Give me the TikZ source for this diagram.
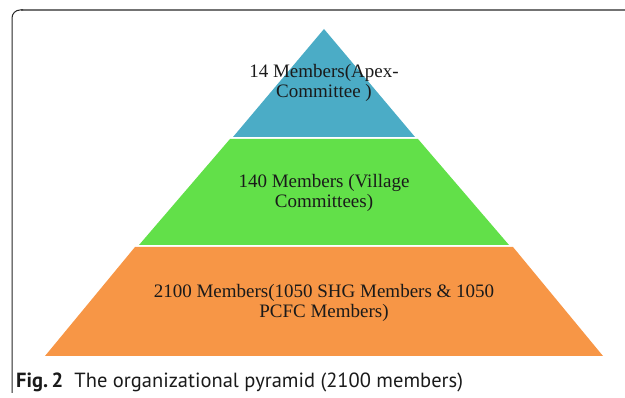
\documentclass[tikz,border=0pt]{standalone}
\usepackage{fontspec}
\setmainfont{Liberation Serif}
\newfontfamily\capfont{PT Sans}
\definecolor{apexblue}{HTML}{4BACC6}
\definecolor{villgreen}{HTML}{62E049}
\definecolor{baseorange}{HTML}{F79646}
\definecolor{txt}{HTML}{1A1A1A}
\begin{document}
\begin{tikzpicture}[x=1pt,y=-1pt,
  lvltext/.style={align=center, text=txt, font=\fontsize{19}{20.5}\selectfont, inner sep=0pt},
  framegray/.style={draw=black!55, line width=1.3pt},
  frameblack/.style={draw=black!85, line width=1pt}]
\useasboundingbox (0,0) rectangle (625,398);
% frame
\draw[framegray] (21,10) -- (626,10);
\draw[frameblack, rounded corners=8pt] (12,393) -- (12,10) -- (23,10);
% pyramid levels
\fill[apexblue] (324,29) -- (415,137) -- (233,137) -- cycle;
\fill[villgreen] (230,139) -- (418,139) -- (509,245) -- (139,245) -- cycle;
\fill[baseorange] (135,247) -- (513,247) -- (603,356) -- (45,356) -- cycle;
% labels
\node[lvltext] (apex) at (324,83) {14 Members(Apex-\\Committee )};
\node[lvltext] (village) at (324,193) {140 Members (Village\\Committees)};
\node[lvltext] (base) at (324,303) {2100 Members(1050 SHG Members \& 1050\\PCFC Members)};
\node[anchor=base west, inner sep=0pt, font=\capfont\fontsize{20.5}{22}\selectfont, text=txt] (cap) at (16,388) {\textbf{Fig.\,2}\hspace{0.55em}The organizational pyramid (2100 members)};
\end{tikzpicture}
\end{document}
